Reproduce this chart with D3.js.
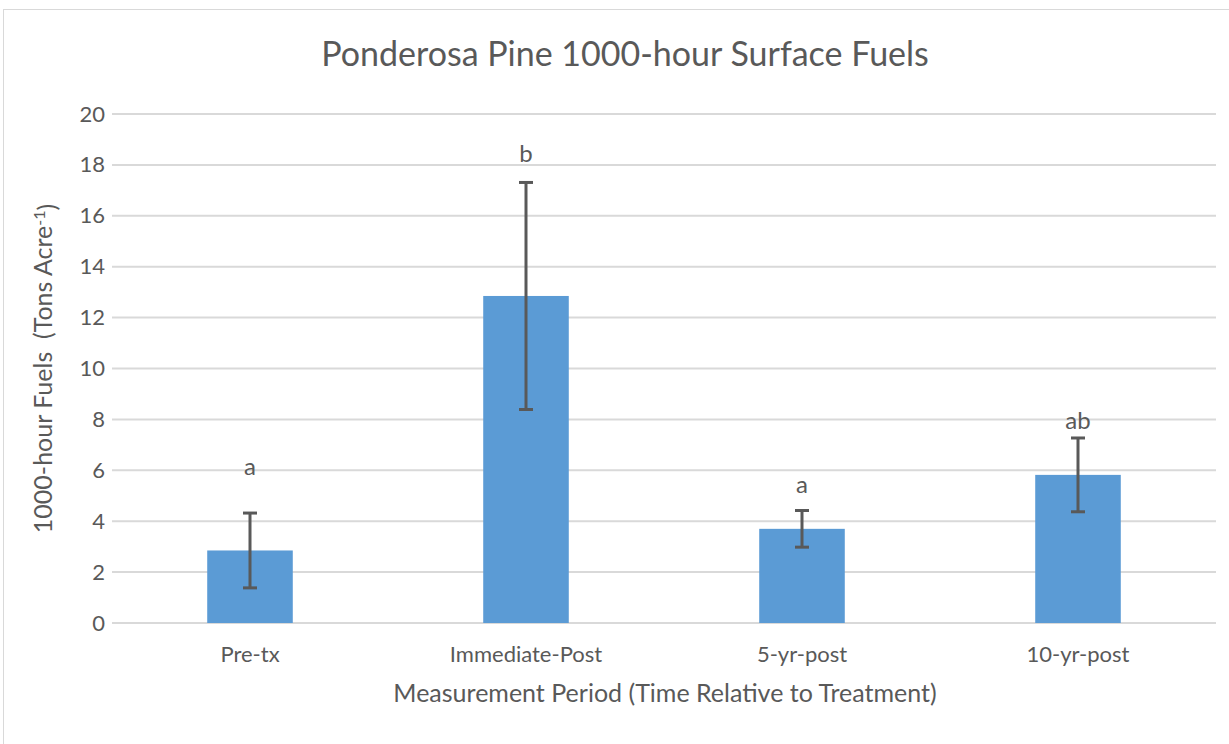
<!DOCTYPE html>
<html>
<head>
<meta charset="utf-8">
<script src="https://d3js.org/d3.v7.min.js"></script>
<style>
  body { margin: 0; background: #fff; }
  text { font-family: Lato, "Open Sans", sans-serif; fill: #595959; }
  .grid line { stroke: #d9d9d9; stroke-width: 2px; }
</style>
</head>
<body>
<svg id="chart" width="1229" height="744"></svg>
<script>
// values
var periods = ["Pre-tx", "Immediate-Post", "5-yr-post", "10-yr-post"];
var means = [2.85, 12.85, 3.7, 5.82];
var errors = [1.47, 4.46, 0.72, 1.45];
var letters = ["a", "b", "a", "ab"];
var letterAt = [6.15, 18.45, 5.45, 7.95];
var yTicks = [0, 2, 4, 6, 8, 10, 12, 14, 16, 18, 20];

var svg = d3.select("#chart");
var margin = {left: 112, right: 13, top: 114, bottom: 121};
var width = 1229, height = 744;

// chart border
svg.append("rect")
  .attr("x", 3.5).attr("y", 9.5)
  .attr("width", 1240).attr("height", 760)
  .attr("fill", "none").attr("stroke", "#d9d9d9");

var x = d3.scaleBand()
  .domain(periods)
  .range([margin.left, width - margin.right])
  .paddingInner(0.69).paddingOuter(0.345);

var y = d3.scaleLinear()
  .domain([0, 20])
  .range([height - margin.bottom, margin.top]);

// gridlines
svg.append("g").attr("class", "grid")
  .selectAll("line").data(yTicks).enter()
  .append("line")
  .attr("x1", margin.left).attr("x2", width - margin.right)
  .attr("y1", d => y(d)).attr("y2", d => y(d));

// y tick labels
var yAxis = svg.append("g")
  .attr("transform", "translate(" + (margin.left - 7) + ",0)")
  .call(d3.axisLeft(y).tickValues(yTicks).tickSize(0).tickPadding(0));
yAxis.select(".domain").remove();
yAxis.selectAll("text").style("font-size", "22px");

// bars
svg.append("g").selectAll("rect").data(periods).enter()
  .append("rect")
  .attr("x", d => x(d))
  .attr("width", x.bandwidth())
  .attr("y", (d, i) => y(means[i]))
  .attr("height", (d, i) => y(0) - y(means[i]))
  .attr("fill", "#5b9bd5");

// error bars
var eb = svg.append("g").attr("stroke", "#595959").attr("stroke-width", 3);
periods.forEach(function(p, i) {
  var cx = x(p) + x.bandwidth() / 2;
  var hi = y(means[i] + errors[i]), lo = y(means[i] - errors[i]);
  eb.append("line").attr("x1", cx).attr("x2", cx).attr("y1", hi).attr("y2", lo);
  eb.append("line").attr("x1", cx - 7).attr("x2", cx + 7).attr("y1", hi).attr("y2", hi);
  eb.append("line").attr("x1", cx - 7).attr("x2", cx + 7).attr("y1", lo).attr("y2", lo);
});

// significance letters
svg.append("g").selectAll("text").data(periods).enter()
  .append("text")
  .attr("x", d => x(d) + x.bandwidth() / 2)
  .attr("y", (d, i) => y(letterAt[i]))
  .attr("dy", "0.35em")
  .attr("text-anchor", "middle")
  .style("font-size", "24px")
  .text((d, i) => letters[i]);

// x category labels
var xAxis = svg.append("g")
  .attr("transform", "translate(0," + y(0) + ")")
  .call(d3.axisBottom(x).tickSize(0).tickPadding(23));
xAxis.select(".domain").remove();
xAxis.selectAll("text").style("font-size", "22px");

// titles
svg.append("text")
  .attr("x", 625).attr("y", 66)
  .attr("text-anchor", "middle")
  .style("font-size", "34px")
  .text("Ponderosa Pine 1000-hour Surface Fuels");

svg.append("text")
  .attr("x", 665).attr("y", 702)
  .attr("text-anchor", "middle")
  .style("font-size", "25px")
  .text("Measurement Period (Time Relative to Treatment)");

var yt = svg.append("text")
  .attr("transform", "translate(52," + y(10) + ") rotate(-90)")
  .attr("text-anchor", "middle")
  .style("font-size", "25px");
yt.append("tspan").text("1000-hour Fuels\u00a0 (Tons Acre");
yt.append("tspan").attr("dy", "-0.45em").style("font-size", "16px").text("-1");
yt.append("tspan").attr("dy", "0.45em").text(")");
</script>
</body>
</html>
